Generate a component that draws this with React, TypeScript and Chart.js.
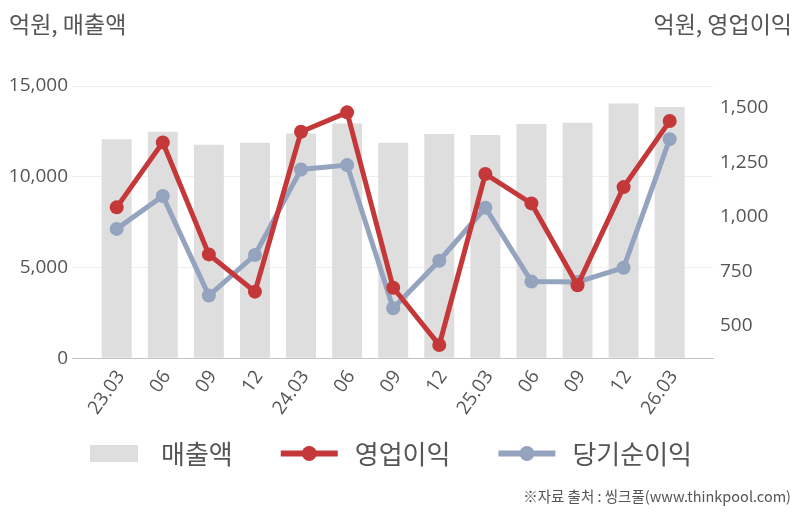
import { useEffect, useRef } from 'react';
import { Chart, registerables } from 'chart.js';

Chart.register(...registerables);

const categories = ['23.03', '06', '09', '12', '24.03', '06', '09', '12', '25.03', '06', '09', '12', '26.03'];
const sales = [12060, 12480, 11770, 11880, 12390, 12940, 11880, 12350, 12300, 12900, 12970, 14030, 13850];
const operatingProfit = [1043, 1341, 827, 656, 1390, 1479, 674, 411, 1196, 1061, 685, 1136, 1439];
const netIncome = [944, 1095, 638, 824, 1217, 1237, 580, 798, 1041, 702, 700, 766, 1356];
const leftTicks = [0, 5000, 10000, 15000];
const rightTicks = [500, 750, 1000, 1250, 1500];
const seriesNames = ['매출액', '영업이익', '당기순이익'];
const leftTitle = '억원, 매출액';
const rightTitle = '억원, 영업이익';
const sourceText = '※자료 출처 : 씽크풀(www.thinkpool.com)';

const GRAY = '#dedede';
const RED = '#c5383a';
const BLUE = '#94a3be';
const TEXT = '#555555';
const LATIN = '"Open Sans", "Noto Sans", sans-serif';
const KOREAN = '"Noto Sans CJK KR", "Noto Sans", sans-serif';

const seriesColors = [GRAY, RED, BLUE];
const seriesKinds = ['box', 'line', 'line'];

const textPlugin = {
  id: 'extraTexts',
  afterDraw(chart: any) {
    const ctx = chart.ctx;
    ctx.save();
    ctx.fillStyle = TEXT;
    ctx.textBaseline = 'middle';
    ctx.font = `23px ${KOREAN}`;
    ctx.textAlign = 'left';
    ctx.fillText(leftTitle, 9, 24);
    ctx.textAlign = 'right';
    ctx.fillText(rightTitle, 792, 24);
    ctx.font = `14.5px ${KOREAN}`;
    ctx.fillText(sourceText, 791, 496.5);

    // legend
    const cy = 453.5;
    let x = 90;
    ctx.font = `26px ${KOREAN}`;
    ctx.textAlign = 'left';
    seriesNames.forEach((name, i) => {
      const color = seriesColors[i];
      let markW: number;
      if (seriesKinds[i] === 'box') {
        markW = 48;
        ctx.fillStyle = color;
        ctx.fillRect(x, cy - 8.5, markW, 17);
      } else {
        markW = 57;
        ctx.strokeStyle = color;
        ctx.lineWidth = 6;
        ctx.beginPath();
        ctx.moveTo(x, cy);
        ctx.lineTo(x + markW, cy);
        ctx.stroke();
        ctx.fillStyle = color;
        ctx.beginPath();
        ctx.arc(x + markW / 2, cy, 7.5, 0, Math.PI * 2);
        ctx.fill();
      }
      const tx = x + markW + (seriesKinds[i] === 'box' ? 23 : 17);
      ctx.fillStyle = TEXT;
      ctx.fillText(name, tx, cy + 0.5);
      x = tx + ctx.measureText(name).width + 48;
    });
    ctx.restore();
  },
};

export default function App() {
  const ref = useRef<HTMLCanvasElement>(null);

  useEffect(() => {
    document.body.style.margin = '0';
    const canvas = ref.current!;
    const toPoints = (arr: number[]) => arr.map((y, i) => ({ x: i, y }));

    const chart = new Chart(canvas, {
      type: 'bar',
      data: {
        datasets: [
          {
            type: 'bar',
            label: seriesNames[0],
            data: toPoints(sales),
            backgroundColor: GRAY,
            borderWidth: 0,
            yAxisID: 'y',
            barPercentage: 0.65,
            categoryPercentage: 1,
            order: 3,
          },
          {
            type: 'line',
            label: seriesNames[1],
            data: toPoints(operatingProfit),
            borderColor: RED,
            backgroundColor: RED,
            borderWidth: 5,
            pointRadius: 7,
            pointBackgroundColor: RED,
            pointBorderWidth: 0,
            tension: 0,
            yAxisID: 'y1',
            order: 1,
          },
          {
            type: 'line',
            label: seriesNames[2],
            data: toPoints(netIncome),
            borderColor: BLUE,
            backgroundColor: BLUE,
            borderWidth: 5,
            pointRadius: 7,
            pointBackgroundColor: BLUE,
            pointBorderWidth: 0,
            tension: 0,
            yAxisID: 'y1',
            order: 2,
          },
        ] as any,
      },
      options: {
        responsive: false,
        animation: false,
        layout: { padding: { top: 86, left: 0, right: 28, bottom: 88.7 } },
        scales: {
          x: {
            type: 'linear',
            offset: false,
            min: -0.97,
            max: 12.94,
            afterBuildTicks: (scale: any) => {
              scale.ticks = categories.map((_, i) => ({ value: i }));
            },
            afterFit: (scale: any) => {
              scale.height = 65;
            },
            grid: { display: false, drawTicks: false },
            border: { display: true, color: '#c4c4c4', width: 1 },
            ticks: {
              autoSkip: false,
              minRotation: 55,
              maxRotation: 55,
              padding: 8,
              labelOffset: 4,
              color: TEXT,
              font: { family: LATIN, size: 19 },
              callback: (v: any) => categories[v as number] ?? '',
            },
          },
          y: {
            type: 'linear',
            position: 'left',
            min: 0,
            max: 15000,
            afterBuildTicks: (scale: any) => {
              scale.ticks = leftTicks.map((v) => ({ value: v }));
            },
            afterFit: (scale: any) => {
              scale.width = 72;
            },
            grid: { color: '#eeeeee', lineWidth: 1, drawTicks: false },
            border: { display: false },
            ticks: {
              padding: 4,
              color: TEXT,
              font: { family: LATIN, size: 19 },
              callback: (v: any) => Number(v).toLocaleString('en-US'),
            },
          },
          y1: {
            type: 'linear',
            position: 'right',
            min: 350,
            max: 1600,
            afterBuildTicks: (scale: any) => {
              scale.ticks = rightTicks.map((v) => ({ value: v }));
            },
            afterFit: (scale: any) => {
              scale.width = 61;
            },
            grid: { display: false, drawTicks: false },
            border: { display: false },
            ticks: {
              padding: 7,
              color: TEXT,
              font: { family: LATIN, size: 19 },
              callback: (v: any) => Number(v).toLocaleString('en-US'),
            },
          },
        },
        plugins: {
          tooltip: { enabled: false },
          title: { display: false },
          legend: { display: false },
        },
      } as any,
      plugins: [textPlugin],
    });

    return () => chart.destroy();
  }, []);

  return (
    <div style={{ position: 'fixed', left: 0, top: 0, width: 802, height: 512, background: '#ffffff' }}>
      <canvas ref={ref} width={802} height={512} style={{ width: 802, height: 512, display: 'block' }} />
    </div>
  );
}
